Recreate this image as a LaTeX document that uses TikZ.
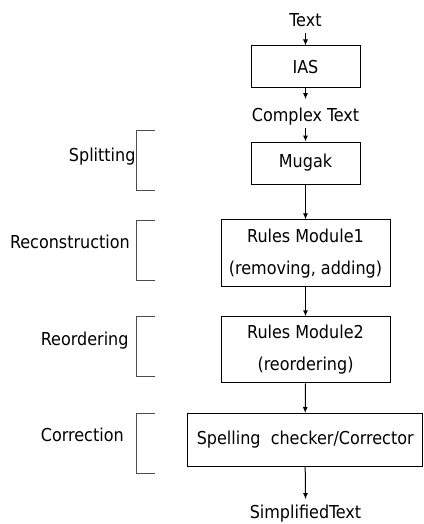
\documentclass[tikz,border=0pt]{standalone}
\usepackage{fontspec}
\setmainfont{DejaVu Sans Condensed}
\usetikzlibrary{arrows.meta}
\begin{document}
\begin{tikzpicture}[x=1pt,y=-1pt,
  every node/.style={font=\fontsize{17.8}{32}\selectfont},
  lbl/.style={inner sep=2pt,text depth=4pt,text height=13pt,anchor=base},
  side/.style={inner sep=0pt},
  proc/.style={draw=black,line width=1pt,align=center,inner sep=0pt},
  arr/.style={line width=1pt,-{Latex[length=6pt,width=5pt]}},
  brk/.style={draw=black!70,line width=1pt}]
\useasboundingbox (0,0) rectangle (423,524);
\node[lbl] (txt) at (305.5,26.7) {Text};
\node[proc,minimum width=109pt,minimum height=42pt] (ias) at (305.5,67) {IAS};
\node[lbl,text height=20.4pt] (ct) at (305.5,121.7) {Complex Text};
\node[proc,minimum width=109pt,minimum height=42pt] (mug) at (305.5,163) {Mugak};
\node[proc,minimum width=169pt,minimum height=67pt] (rm1) at (305.5,253.4) {Rules Module1\\(removing, adding)};
\node[proc,minimum width=169pt,minimum height=66pt] (rm2) at (305.5,349.8) {Rules Module2\\(reordering)};
\node[proc,minimum width=235pt,minimum height=53pt] (sc) at (305.2,440) {Spelling\ \ checker/Corrector};
\node[lbl,text height=16.7pt] (st) at (305.5,518) {SimplifiedText};
\draw[arr] (txt.south) -- (ias.north);
\draw[arr] (ias.south) -- (ct.north);
\draw[arr] (ct.south) -- (mug.north);
\draw[arr] (mug.south) -- (rm1.north);
\draw[arr] (rm1.south) -- (rm2.north);
\draw[arr] (rm2.south) -- (sc.north);
\draw[arr] (sc.south) -- (st.north);
\node[side,anchor=base east] (l1) at (135.7,161) {Splitting};
\node[side,anchor=base east] (l2) at (130,248.3) {Reconstruction};
\node[side,anchor=base west] (l3) at (40.7,345.7) {Reordering};
\node[side,anchor=base west] (l4) at (40.7,441.7) {Correction};
\draw[brk] (155,130.7) -- (136.7,130.7) -- (136.7,190) -- (155,190);
\draw[brk] (155,220.7) -- (136.7,220.7) -- (136.7,280.7) -- (155,280.7);
\draw[brk] (155,316.7) -- (136.7,316.7) -- (136.7,376.7) -- (155,376.7);
\draw[brk] (155,413.3) -- (136.7,413.3) -- (136.7,473.3) -- (155,473.3);
\end{tikzpicture}
\end{document}
